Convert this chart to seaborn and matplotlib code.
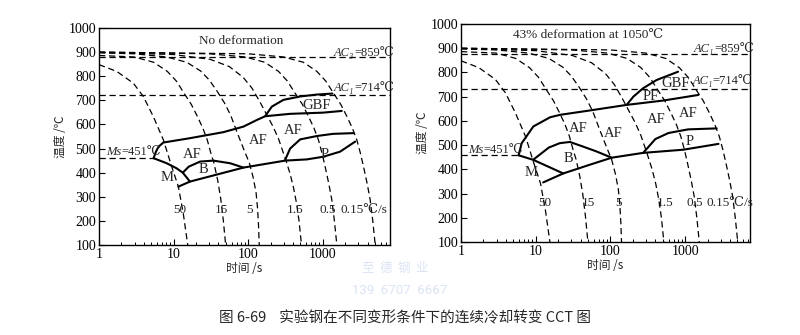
import matplotlib
matplotlib.use("Agg")
import matplotlib.pyplot as plt
import matplotlib.ticker as mticker
import numpy as np
import pandas as pd
import seaborn as sns

# ---------------- data ----------------
rate_labels = ["50", "15", "5", "1.5", "0.5", "0.15℃/s"]

# cooling curves (time s, temperature ℃), shared by both diagrams
c50_t = [1, 1.73, 2.89, 3.93, 5.35, 7.3, 9.45, 11.6, 13.5, 15.5]
c50_T = [848, 820, 771, 716, 633, 536, 425, 342, 231, 100]
c15_t = [1, 2.94, 5.4, 8.25, 10.9, 13.8, 17.3, 20.9, 24.7, 28.3, 31.6, 34.8, 39, 42.8, 46.4, 50]
c15_T = [886, 880, 858, 820, 780, 730, 683, 633, 585, 536, 482, 440, 370, 295, 205, 100]
c5_t = [1, 3, 8, 15, 23, 30, 38, 48, 58, 72, 88, 104, 117, 128, 134, 138, 141]
c5_T = [897, 893, 880, 858, 822, 785, 740, 690, 640, 563, 495, 440, 380, 316, 250, 180, 100]
c1p5_t = [1, 10, 31, 56, 86, 113, 143, 178, 217, 256, 314, 362, 405, 445, 482, 520]
c1p5_T = [899, 890, 870, 840, 795, 750, 695, 640, 590, 540, 460, 400, 340, 275, 200, 100]
c0p5_t = [1, 30, 91, 167, 256, 336, 426, 535, 646, 764, 877, 978, 1079, 1207, 1327, 1437, 1550]
c0p5_T = [900, 893, 880, 858, 820, 780, 730, 683, 633, 585, 536, 482, 425, 355, 287, 200, 100]
c0p15_t = [1, 100, 298, 550, 836, 1100, 1396, 1750, 2115, 2500, 2870, 3200, 3530, 3950, 4340, 4700, 5070]
c0p15_T = [900, 893, 880, 858, 820, 780, 730, 683, 633, 585, 536, 482, 425, 355, 287, 200, 100]

# critical temperatures as drawn
L_ac3, L_ac1 = 880, 722
R_ac3, R_ac1 = 876, 730
ms_T = 460

# left diagram: no deformation
L_ms_t = [1, 5.4]
L_upper_t = [5.4, 5.8, 6.3, 7.3, 16.6, 46.6, 86.5, 130, 169, 366, 1016, 1800]
L_upper_T = [460, 487, 508, 525, 543, 568, 591, 618, 634, 644, 649, 656]
L_gbf_t = [169, 208, 298, 499, 836, 1350]
L_gbf_T = [634, 674, 702, 716, 724, 728]
L_lower_t = [11.6, 16.6, 86.5, 314, 613, 1016, 1710, 2735]
L_lower_T = [342, 363, 421, 450, 455, 466, 487, 529]
L_m_t = [5.4, 8.1, 11, 13.3, 16.6]
L_m_T = [460, 439, 418, 400, 363]
L_b_t = [13.3, 16, 22.7, 34.2, 57.5, 86.5]
L_b_T = [400, 425, 446, 450, 439, 421]
L_p_t = [314, 366, 499, 836, 1380, 2600]
L_p_T = [453, 500, 538, 552, 561, 564]

# right diagram: 43% deformation at 1050℃
R_ms_t = [1, 5.9]
R_upper_t = [5.9, 6.5, 9.3, 15.6, 21.2, 53, 165, 510, 1500]
R_upper_T = [458, 508, 577, 615, 625, 643, 666, 684, 707]
R_pf_t = [165, 203, 275, 417, 805]
R_pf_T = [666, 700, 735, 769, 803]
R_lower_t = [12.6, 23.4, 53, 104, 275, 945, 2800]
R_lower_T = [346, 383, 419, 448, 468, 481, 505]
R_m_t = [5.9, 9.3, 23.4]
R_m_T = [458, 439, 383]
R_b_t = [9.3, 15, 21, 28.7, 43, 65, 104]
R_b_T = [440, 490, 508, 513, 494, 474, 448]
R_p_t = [275, 400, 600, 1100, 2650]
R_p_T = [468, 525, 550, 565, 569]

time_ticks = [1, 10, 100, 1000]
temp_ticks = [100, 200, 300, 400, 500, 600, 700, 800, 900, 1000]

# ---------------- build tables ----------------
def table(pairs):
    rows = []
    for k, (tt, TT) in enumerate(pairs):
        for a, b in zip(tt, TT):
            rows.append({"t": a, "T": b, "seg": k})
    return pd.DataFrame(rows)

cool_df = table([(c50_t, c50_T), (c15_t, c15_T), (c5_t, c5_T),
                 (c1p5_t, c1p5_T), (c0p5_t, c0p5_T), (c0p15_t, c0p15_T)])

L_solid = table([(L_upper_t, L_upper_T), (L_gbf_t, L_gbf_T), (L_lower_t, L_lower_T),
                 (L_m_t, L_m_T), (L_b_t, L_b_T), (L_p_t, L_p_T)])
R_solid = table([(R_upper_t, R_upper_T), (R_pf_t, R_pf_T), (R_lower_t, R_lower_T),
                 (R_m_t, R_m_T), (R_b_t, R_b_T), (R_p_t, R_p_T)])
L_ms = table([(L_ms_t, [ms_T, ms_T])])
R_ms = table([(R_ms_t, [ms_T, ms_T])])

# ---------------- style ----------------
sns.set_style("ticks")
SERIF = ["Liberation Serif", "DejaVu Serif", "Noto Sans CJK SC"]
CJK = ["Noto Sans CJK SC", "DejaVu Sans"]
plt.rcParams["font.family"] = SERIF
plt.rcParams["axes.linewidth"] = 1.0

DASH = (0, (5, 3))

fig = plt.figure(figsize=(8.0, 3.35), dpi=100)
axL = fig.add_axes([99 / 800, 1 - 245 / 335, 291 / 800, 217 / 335])
axR = fig.add_axes([461 / 800, 1 - 242 / 335, 289 / 800, 218 / 335])


def setup(ax, xmax):
    ax.set_xscale("log")
    ax.set_xlim(1, xmax)
    ax.set_ylim(100, 1000)
    ax.set_yticks(temp_ticks)
    ax.set_xticks(time_ticks)
    ax.xaxis.set_major_formatter(mticker.FixedFormatter([str(v) for v in time_ticks]))
    ax.xaxis.set_minor_locator(mticker.LogLocator(base=10, subs=np.arange(2, 10)))
    ax.xaxis.set_minor_formatter(mticker.NullFormatter())
    ax.tick_params(axis="both", which="both", direction="in", colors="black",
                   labelsize=10, pad=2)
    ax.tick_params(axis="y", length=4, width=0.8)
    ax.tick_params(axis="x", which="major", length=4, width=0.8)
    ax.tick_params(axis="x", which="minor", length=2.5, width=0.7)
    for s in ax.spines.values():
        s.set_visible(True)
        s.set_color("black")


def draw(ax, solid, ms, ac3, ac1):
    sns.lineplot(data=cool_df, x="t", y="T", units="seg", estimator=None, sort=False,
                 color="black", lw=0.9, linestyle=DASH, ax=ax)
    sns.lineplot(data=ms, x="t", y="T", units="seg", estimator=None, sort=False,
                 color="black", lw=0.9, linestyle=DASH, ax=ax)
    ax.axhline(ac3, color="black", lw=0.9, linestyle=DASH)
    ax.axhline(ac1, color="black", lw=0.9, linestyle=DASH)
    sns.lineplot(data=solid, x="t", y="T", units="seg", estimator=None, sort=False,
                 color="black", lw=1.5, ax=ax)
    ax.set_xlabel("时间 /s", family=CJK, fontsize=8.5, labelpad=1)
    ax.set_ylabel("温度 /℃", family=CJK, fontsize=8.5, labelpad=1)


def split_label(ax, x, y, ital, rest, size=9):
    ax.text(x, y, ital, style="italic", ha="right", va="center", fontsize=size)
    ax.text(x, y, rest, ha="left", va="center", fontsize=size)


for ax, xmax in ((axL, 8000), (axR, 7400)):
    setup(ax, xmax)

draw(axL, L_solid, L_ms, L_ac3, L_ac1)
draw(axR, R_solid, R_ms, R_ac3, R_ac1)

FS = 10.5
RS = 9.5
# ---- left labels
axL.text(82, 948, "No deformation", ha="center", va="center", fontsize=9.5)
split_label(axL, 2650, 897, "AC₃", "=859℃")
split_label(axL, 2650, 752, "AC₁", "=714℃")
split_label(axL, 2.0, 484, "Ms", "=451℃")
for txt, x, y in (("GBF", 818, 677), ("AF", 406, 573), ("AF", 137, 533), ("AF", 17.9, 474),
                  ("B", 25, 414), ("M", 8.1, 379), ("P", 1070, 477)):
    axL.text(x, y, txt, ha="center", va="center", fontsize=FS)
for txt, x in zip(rate_labels, (12.2, 44.5, 106, 426, 1170, 3530)):
    axL.text(x, 245, txt, ha="center", va="center", fontsize=RS)

# ---- right labels
axR.text(50.6, 955, "43% deformation at 1050℃", ha="center", va="center", fontsize=9.5)
split_label(axR, 2450, 896, "AC₁", "=859℃")
split_label(axR, 2350, 763, "AC₁", "=714℃")
split_label(axR, 2.0, 480, "Ms", "=451℃")
for txt, x, y in (("GBF", 750, 756), ("PF", 345, 700), ("AF", 1100, 632), ("AF", 415, 604),
                  ("AF", 109, 549), ("AF", 37, 570), ("B", 27.4, 446), ("M", 8.6, 385),
                  ("P", 1170, 515)):
    axR.text(x, y, txt, ha="center", va="center", fontsize=FS)
for txt, x in zip(rate_labels, (13.3, 50.6, 127, 537, 1360, 3960)):
    axR.text(x, 263, txt, ha="center", va="center", fontsize=RS)

# ---- watermark and caption
fig.text(395 / 800, 1 - 268 / 335, "至  德  钢  业", family=CJK, fontsize=9,
         color="#dbe4f4", ha="center", va="center")
fig.text(400 / 800, 1 - 290 / 335, "139  6707  6667", family=["Roboto", "DejaVu Sans"],
         fontsize=9.5, color="#dbe4f4", ha="center", va="center")
fig.text(405 / 800, 1 - 318 / 335, "图 6-69    实验钢在不同变形条件下的连续冷却转变 CCT 图",
         family=CJK, fontsize=10.5, ha="center", va="center")

fig.savefig("out.png", dpi=100)
